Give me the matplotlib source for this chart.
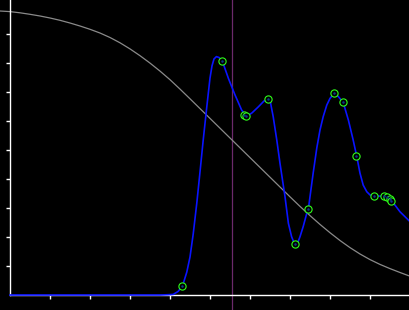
import matplotlib
matplotlib.use("Agg")
import matplotlib.pyplot as plt

# Blue smooth curve
curve_x = [0.00, 3.75, 3.95, 4.08, 4.20, 4.31, 4.42, 4.50, 4.58, 4.67, 4.75, 4.83, 4.92,
           5.00, 5.05, 5.10, 5.16, 5.225, 5.31, 5.46, 5.625, 5.79, 5.89, 5.95, 6.05, 6.21,
           6.35, 6.46, 6.50, 6.58, 6.67, 6.75, 6.875, 6.96, 7.04, 7.125, 7.20, 7.25, 7.33,
           7.42, 7.46, 7.50, 7.58, 7.67, 7.75, 7.83, 7.92, 8.00, 8.11, 8.21, 8.33, 8.46,
           8.58, 8.67, 8.75, 8.83, 8.92, 9.00, 9.08, 9.29, 9.36, 9.41, 9.475, 9.52, 9.625,
           9.75, 9.875, 10.0]
curve_y = [0.00, 0.00, 0.01, 0.02, 0.12, 0.30, 0.79, 1.31, 2.10, 3.17, 4.24, 5.34, 6.49,
           7.48, 7.90, 8.14, 8.22, 8.19, 8.06, 7.47, 6.90, 6.38, 6.21, 6.19, 6.28, 6.49,
           6.69, 6.76, 6.72, 6.15, 5.34, 4.54, 3.39, 2.47, 2.01, 1.72, 1.83, 2.01, 2.36,
           2.82, 2.97, 3.39, 4.21, 5.07, 5.69, 6.15, 6.55, 6.78, 6.96, 6.84, 6.64, 6.03,
           5.34, 4.77, 4.20, 3.79, 3.56, 3.45, 3.41, 3.41, 3.41, 3.37, 3.30, 3.24, 3.10,
           2.87, 2.70, 2.53]

# Green sample points
pts_x = [4.31, 5.31, 5.86, 5.90, 6.46, 7.13, 7.46, 8.11, 8.33, 8.66, 9.09, 9.36, 9.42, 9.49, 9.525]
pts_y = [0.30, 8.06, 6.22, 6.17, 6.75, 1.75, 2.96, 6.96, 6.64, 4.78, 3.41, 3.41, 3.37, 3.30, 3.23]

# Gray decreasing curve
gray_x = [-0.25, 0.00, 0.25, 0.50, 0.75, 1.00, 1.25, 1.50, 1.75, 2.00,
          2.25, 2.50, 2.75, 3.00, 3.25, 3.50, 3.75, 4.00, 4.25, 4.50,
          4.75, 5.00, 5.25, 5.50, 5.75, 6.00, 6.25, 6.50, 6.75, 7.00,
          7.25, 7.50, 7.75, 8.00, 8.25, 8.50, 8.75, 9.00, 9.25, 9.50,
          9.75, 10.00]
gray_y = [9.793, 9.772, 9.731, 9.679, 9.621, 9.552, 9.472, 9.379, 9.276, 9.162,
          9.034, 8.879, 8.697, 8.486, 8.252, 7.997, 7.721, 7.424, 7.100, 6.766,
          6.428, 6.090, 5.752, 5.414, 5.076, 4.738, 4.400, 4.062, 3.724, 3.386,
          3.055, 2.738, 2.434, 2.148, 1.879, 1.634, 1.414, 1.221, 1.055, 0.910,
          0.776, 0.648]

vline_x = 5.54
xticks = [1, 2, 3, 4, 5, 6, 7, 8, 9]
yticks = [1, 2, 3, 4, 5, 6, 7, 8, 9]

fig = plt.figure(figsize=(4.1, 3.1), dpi=100, facecolor="black")
ax = fig.add_axes([0, 0, 1, 1])
ax.set_facecolor("black")
ax.set_xlim(-0.25, 10.0)
ax.set_ylim(-15 / 29, 295 / 29)

for s in ["top", "right"]:
    ax.spines[s].set_visible(False)
ax.spines["left"].set_position(("data", 0))
ax.spines["bottom"].set_position(("data", 0))
ax.spines["left"].set_bounds(0, 295 / 29)
ax.spines["bottom"].set_bounds(0, 10.0)
for s in ["left", "bottom"]:
    ax.spines[s].set_color("white")
    ax.spines[s].set_linewidth(1.0)

ax.set_xticks(xticks)
ax.set_yticks(yticks)
ax.set_xticklabels([])
ax.set_yticklabels([])
ax.tick_params(colors="white", direction="out", length=3, width=1.0)

ax.axvline(vline_x, color="#6b2a6b", lw=0.9, zorder=1)
ax.plot(gray_x, gray_y, color="#8a8a8a", lw=0.9, zorder=2, clip_on=False)
ax.plot(curve_x, curve_y, color="#0a14ff", lw=1.2, zorder=3)
ax.plot(pts_x, pts_y, linestyle="none", marker="o", markersize=5.2,
        markerfacecolor="black", markeredgecolor="#2eff1a", markeredgewidth=0.8, zorder=4)
ax.plot(pts_x, pts_y, linestyle="none", marker="o", markersize=0.8,
        color="#0a3a8a", zorder=5)

fig.savefig("out.png", dpi=100, facecolor="black")
